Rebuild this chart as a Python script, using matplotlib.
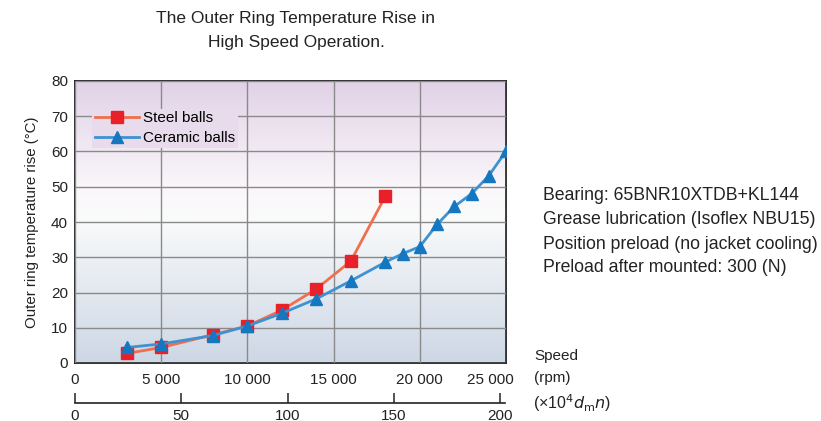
import numpy as np
import matplotlib
matplotlib.use("Agg")
import matplotlib.pyplot as plt
import matplotlib.transforms as mtransforms
from matplotlib.colors import LinearSegmentedColormap

plt.rcParams['font.family'] = ['Liberation Sans', 'DejaVu Sans']

# Data
steel_speed = [3000, 5000, 8000, 10000, 12000, 14000, 16000, 18000]
steel_temp = [2.7, 4.4, 8.0, 10.5, 15.0, 21.0, 28.9, 47.3]
ceramic_speed = [3000, 5000, 8000, 10000, 12000, 14000, 16000, 18000, 19000,
                 20000, 21000, 22000, 23000, 24000, 25000]
ceramic_temp = [4.4, 5.4, 7.8, 10.5, 14.1, 18.2, 23.3, 28.6, 31.0,
                33.0, 39.3, 44.4, 48.0, 53.1, 60.1]
x_ticks = [0, 5000, 10000, 15000, 20000, 25000]
x_ticklabels = ['0', '5 000', '10 000', '15 000', '20 000', '25 000']
y_ticks = list(range(0, 81, 10))
dmn_ticks = [0, 50, 100, 150, 200]
notes = ["Bearing: 65BNR10XTDB+KL144",
         "Grease lubrication (Isoflex NBU15)",
         "Position preload (no jacket cooling)",
         "Preload after mounted: 300 (N)"]

W, H = 821, 421
fig = plt.figure(figsize=(W / 100, H / 100), dpi=100)
L, R, T, B = 75, 506, 81, 363
ax = fig.add_axes([L / W, 1 - B / H, (R - L) / W, (B - T) / H])

# gradient background
cmap = LinearSegmentedColormap.from_list(
    'bg', [(0.0, (205/255, 215/255, 229/255)),
           (0.52, (250/255, 251/255, 251/255)),
           (0.62, (250/255, 247/255, 250/255)),
           (1.0, (225/255, 210/255, 231/255))])
grad = np.linspace(0, 1, 256).reshape(-1, 1)
ax.imshow(grad, aspect='auto', cmap=cmap, origin='lower',
          extent=[0, 25000, 0, 80], zorder=0)

ax.set_xlim(0, 25000)
ax.set_ylim(0, 80)
ax.set_xticks(x_ticks)
ax.set_xticklabels(x_ticklabels)
ax.set_yticks(y_ticks)
ax.grid(True, color='#8a8a8a', linewidth=1.0, zorder=1)
ax.set_axisbelow(False)
for s in ax.spines.values():
    s.set_color('#222222')
    s.set_linewidth(1.3)
ax.tick_params(axis='x', length=0, labelsize=11, colors='#222222', pad=7)
ax.tick_params(axis='y', length=0, labelsize=11, colors='#222222', pad=5)
# shift last x tick label left (as in the reference)
last = ax.get_xticklabels()[-1]
last.set_transform(last.get_transform() +
                   mtransforms.ScaledTranslation(-16 / 100, 0, fig.dpi_scale_trans))

ax.plot(steel_speed, steel_temp, color='#f0704e', linewidth=2,
        marker='s', markersize=8.5, markerfacecolor='#e8202a',
        markeredgecolor='#e8202a', label='Steel balls', zorder=3)
ax.plot(ceramic_speed, ceramic_temp, color='#3f92d2', linewidth=2,
        marker='^', markersize=8.5, markerfacecolor='#1577c0',
        markeredgecolor='#1577c0', label='Ceramic balls', zorder=4)

leg = ax.legend(loc='upper left', bbox_to_anchor=(0.04, 0.90), fontsize=11,
                frameon=True, facecolor=(232/255, 219/255, 235/255),
                edgecolor='none', framealpha=1, handlelength=2.9,
                borderpad=0.15, labelspacing=0.38, handletextpad=0.3,
                borderaxespad=0)
leg.get_frame().set_boxstyle('square', pad=0)

ax.set_ylabel('Outer ring temperature rise (°C)', fontsize=10.8,
              color='#222222', labelpad=9)

# secondary axis (x10^4 dmn)
ax2 = fig.add_axes([L / W, 1 - 403 / H, (505 - L) / W, 0.0001])
ax2.set_xlim(0, 200 * 430 / 425)
ax2.set_ylim(0, 1)
for k in ['top', 'left', 'right']:
    ax2.spines[k].set_visible(False)
ax2.spines['bottom'].set_color('#222222')
ax2.spines['bottom'].set_linewidth(1.2)
ax2.set_yticks([])
ax2.set_xticks(dmn_ticks)
ax2.tick_params(axis='x', direction='in', length=7, width=1.1,
                colors='#222222', labelsize=11, pad=4)
ax2.patch.set_visible(False)

# titles and labels
fig.text(296 / W, 1 - 18 / H, 'The Outer Ring Temperature Rise in',
         ha='center', va='center', fontsize=12.5, color='#222222')
fig.text(296 / W, 1 - 42 / H, 'High Speed Operation.',
         ha='center', va='center', fontsize=12.5, color='#222222')
fig.text(534 / W, 1 - 356 / H, 'Speed', ha='left', va='center',
         fontsize=11, color='#222222')
fig.text(534 / W, 1 - 378 / H, '(rpm)', ha='left', va='center',
         fontsize=11, color='#222222')
fig.text(533 / W, 1 - 403 / H, r'(×10$^4$$\mathit{d}_\mathrm{m}\mathit{n}$)',
         ha='left', va='center', fontsize=11.5, color='#222222')

for i, line in enumerate(notes):
    fig.text(543 / W, 1 - (196 + 24 * i) / H, line, ha='left', va='center',
             fontsize=12.7, color='#222222')

fig.savefig('out.png', dpi=100)
